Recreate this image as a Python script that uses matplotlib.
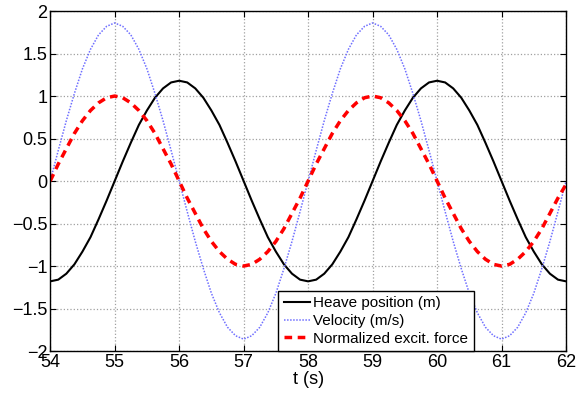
import numpy as np
import matplotlib.pyplot as plt

plt.rcParams['font.family'] = ['Liberation Sans', 'DejaVu Sans']

# sample times (s), every 0.125 s
t = np.linspace(54, 62, 65)

# values
heave = [-1.18, -1.16, -1.09, -0.98, -0.83, -0.66, -0.45, -0.23,
         0.00, 0.23, 0.45, 0.66, 0.83, 0.98, 1.09, 1.16,
         1.18, 1.16, 1.09, 0.98, 0.83, 0.66, 0.45, 0.23,
         0.00, -0.23, -0.45, -0.66, -0.83, -0.98, -1.09, -1.16,
         -1.18, -1.16, -1.09, -0.98, -0.83, -0.66, -0.45, -0.23,
         0.00, 0.23, 0.45, 0.66, 0.83, 0.98, 1.09, 1.16,
         1.18, 1.16, 1.09, 0.98, 0.83, 0.66, 0.45, 0.23,
         0.00, -0.23, -0.45, -0.66, -0.83, -0.98, -1.09, -1.16,
         -1.18]

velocity = [0.00, 0.36, 0.71, 1.03, 1.32, 1.55, 1.72, 1.82,
            1.86, 1.82, 1.72, 1.55, 1.32, 1.03, 0.71, 0.36,
            0.00, -0.36, -0.71, -1.03, -1.32, -1.55, -1.72, -1.82,
            -1.86, -1.82, -1.72, -1.55, -1.32, -1.03, -0.71, -0.36,
            0.00, 0.36, 0.71, 1.03, 1.32, 1.55, 1.72, 1.82,
            1.86, 1.82, 1.72, 1.55, 1.32, 1.03, 0.71, 0.36,
            0.00, -0.36, -0.71, -1.03, -1.32, -1.55, -1.72, -1.82,
            -1.86, -1.82, -1.72, -1.55, -1.32, -1.03, -0.71, -0.36,
            0.00]

force = [0.00, 0.20, 0.38, 0.56, 0.71, 0.83, 0.92, 0.98,
         1.00, 0.98, 0.92, 0.83, 0.71, 0.56, 0.38, 0.20,
         0.00, -0.20, -0.38, -0.56, -0.71, -0.83, -0.92, -0.98,
         -1.00, -0.98, -0.92, -0.83, -0.71, -0.56, -0.38, -0.20,
         0.00, 0.20, 0.38, 0.56, 0.71, 0.83, 0.92, 0.98,
         1.00, 0.98, 0.92, 0.83, 0.71, 0.56, 0.38, 0.20,
         0.00, -0.20, -0.38, -0.56, -0.71, -0.83, -0.92, -0.98,
         -1.00, -0.98, -0.92, -0.83, -0.71, -0.56, -0.38, -0.20,
         -0.04]

xticks = [54, 55, 56, 57, 58, 59, 60, 61, 62]
yticks = [-2, -1.5, -1, -0.5, 0, 0.5, 1, 1.5, 2]

fig = plt.figure(figsize=(5.77, 3.94), dpi=100)
ax = fig.add_axes([0.087, 0.109, 0.894, 0.863])

ax.plot(t, heave, color='black', lw=1.5, label='Heave position (m)')
ax.plot(t, velocity, color='#6f6fff', lw=1.1, linestyle=(0, (1, 1)), label='Velocity (m/s)')
ax.plot(t, force, color='red', lw=2.5, linestyle=(0, (2.2, 1.6)), label='Normalized excit. force')

ax.set_xlim(54, 62)
ax.set_ylim(-2, 2)
ax.set_xticks(xticks)
ax.set_yticks(yticks)
ax.set_yticklabels(['−2', '−1.5', '−1', '−0.5', '0', '0.5', '1', '1.5', '2'])
ax.tick_params(direction='in', top=True, right=True, labelsize=13, length=4, pad=2)
ax.grid(True, color='#a0a0a0', linestyle=':', lw=0.9)
for sp in ax.spines.values():
    sp.set_linewidth(1.0)

ax.set_xlabel('t (s)', fontsize=13, labelpad=0)

leg = ax.legend(loc='lower left', bbox_to_anchor=(0.442, 0.0), borderaxespad=0,
                fontsize=11, fancybox=False, framealpha=1, edgecolor='black',
                handlelength=1.75, handletextpad=0.2, labelspacing=0.25, borderpad=0.35)
leg.get_frame().set_linewidth(1.0)

fig.savefig('out.png', dpi=100)
